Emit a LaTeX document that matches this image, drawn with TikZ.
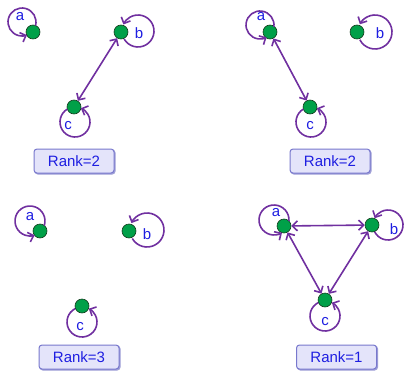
\documentclass[tikz,border=0pt]{standalone}
\usepackage{fontspec}
\setmainfont{Liberation Sans}
\usetikzlibrary{arrows.meta,calc}
\definecolor{edgepurple}{RGB}{112,48,160}
\definecolor{nodegreen}{RGB}{0,160,72}
\definecolor{nodeline}{RGB}{20,60,30}
\definecolor{labelblue}{RGB}{30,30,225}
\definecolor{boxfill}{RGB}{228,228,250}
\definecolor{boxline}{RGB}{120,120,205}
\definecolor{boxshade}{RGB}{160,160,215}
\tikzset{
  vert/.style={circle,fill=nodegreen,draw=nodeline,line width=0.6pt,minimum size=14pt,inner sep=0pt},
  lbl/.style={text=labelblue,font=\fontsize{15}{15}\selectfont,inner sep=0pt},
  conn/.style={draw=edgepurple,line width=1.6pt,{Straight Barb[length=5pt,width=10pt]}-{Straight Barb[length=5pt,width=10pt]}},
  loopline/.style={draw=edgepurple,line width=1.6pt,-{Straight Barb[length=5pt,width=10pt]}},
  rankbox/.style={rectangle,rounded corners=3pt,fill=boxfill,draw=boxline,line width=1pt,
    minimum width=80pt,minimum height=24pt,text=labelblue,font=\fontsize{15}{15}\selectfont,
    preaction={draw=boxshade,line width=1.2pt,fill=boxshade,transform canvas={xshift=1pt,yshift=-1pt}}}
}
% loop: center x, center y, radius, direction from center to vertex
\newcommand\selfloop[4]{%
  \pgfmathsetmacro\lpS{#4+27}%
  \pgfmathsetmacro\lpE{#4+333}%
  \draw[loopline] ($(#1,#2)+(\lpS:#3)$) arc[start angle=\lpS, end angle=\lpE, radius=#3];}
\begin{document}
\begin{tikzpicture}[x=1pt,y=1pt]
\useasboundingbox (0,0) rectangle (406,373);
% ---------- panel 1 ----------
\node[vert] (a1) at (33,341) {};
\node[vert] (b1) at (121,341) {};
\node[vert] (c1) at (74,266) {};
\draw[conn] (b1) -- (c1);
\selfloop{22}{351}{14}{-42}
\selfloop{138}{342}{16}{183}
\selfloop{75}{251}{15}{94}
\node[lbl] (la1) at (20,356) {a};
\node[lbl] (lb1) at (139,340) {b};
\node[lbl] (lc1) at (68,247) {c};
\node[rankbox] (r1) at (74,212) {Rank=2};
% ---------- panel 2 ----------
\node[vert] (a2) at (270,341) {};
\node[vert] (b2) at (357,341) {};
\node[vert] (c2) at (310,266) {};
\draw[conn] (a2) -- (c2);
\selfloop{260}{348}{14}{-35}
\selfloop{375}{341}{17}{180}
\selfloop{311}{251}{15}{94}
\node[lbl] (la2) at (261,356) {a};
\node[lbl] (lb2) at (380,340) {b};
\node[lbl] (lc2) at (310,247) {c};
\node[rankbox] (r2) at (330,212) {Rank=2};
% ---------- panel 3 ----------
\node[vert] (a3) at (40,142) {};
\node[vert] (b3) at (129,142) {};
\node[vert] (c3) at (82,67) {};
\selfloop{30}{152}{15}{-45}
\selfloop{147}{143}{17}{183}
\selfloop{82}{51}{15}{90}
\node[lbl] (la3) at (30,156) {a};
\node[lbl] (lb3) at (147,139) {b};
\node[lbl] (lc3) at (80,46) {c};
\node[rankbox] (r3) at (79,16) {Rank=3};
% ---------- panel 4 ----------
\node[vert] (a4) at (284,147) {};
\node[vert] (b4) at (372,148) {};
\node[vert] (c4) at (325,73) {};
\draw[conn] (a4) -- (b4);
\draw[conn] (a4) -- (c4);
\draw[conn] (b4) -- (c4);
\selfloop{274}{153}{15}{-31}
\selfloop{388}{148}{15}{180}
\selfloop{325}{57}{15}{90}
\node[lbl] (la4) at (276,160) {a};
\node[lbl] (lb4) at (394,144) {b};
\node[lbl] (lc4) at (325,51) {c};
\node[rankbox] (r4) at (336.5,16) {Rank=1};
\end{tikzpicture}
\end{document}
